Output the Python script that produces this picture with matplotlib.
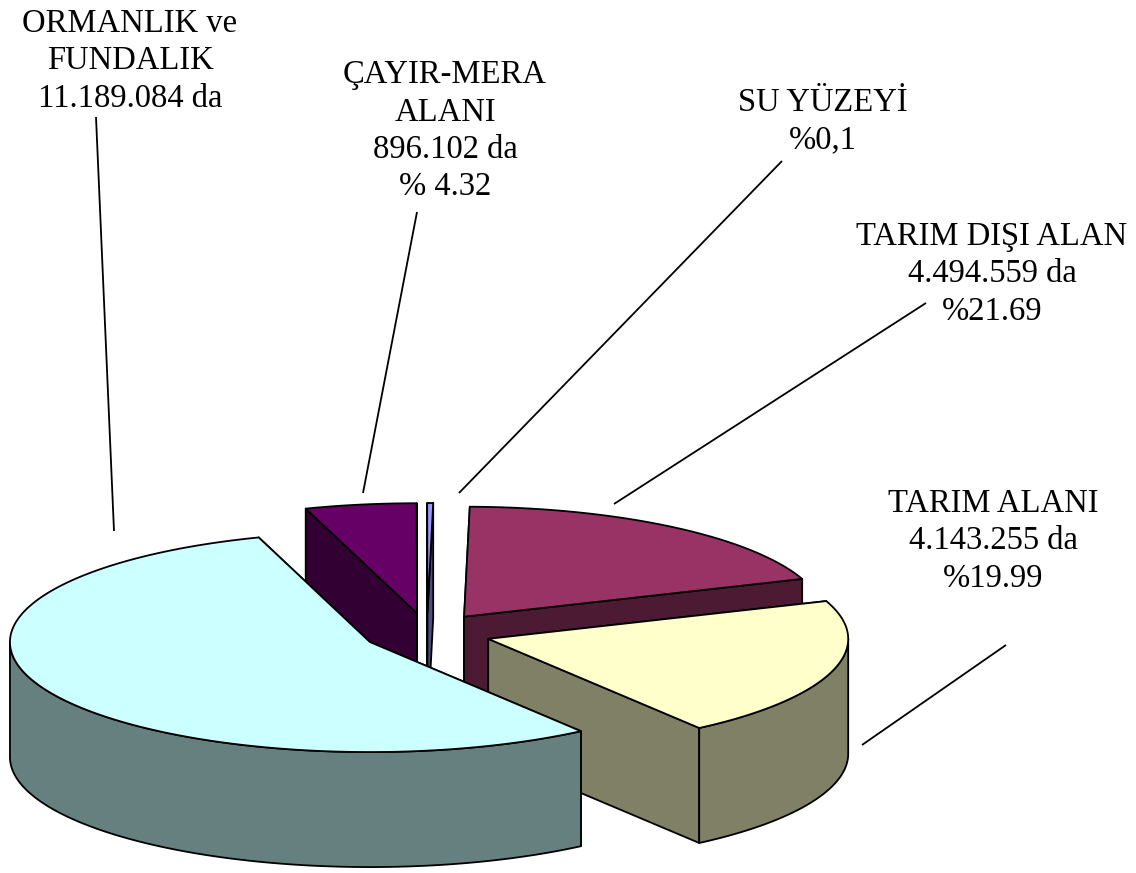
import numpy as np
import matplotlib
matplotlib.use('Agg')
import matplotlib.pyplot as plt
from matplotlib.patches import Polygon

# slices clockwise, starting from the back left edge
names = ['ÇAYIR-MERA ALANI', 'SU YÜZEYİ', 'TARIM DIŞI ALAN', 'TARIM ALANI', 'ORMANLIK ve FUNDALIK']
areas = [896102, 20700, 4494559, 4143255, 11189084]

label_texts = ['ÇAYIR-MERA\nALANI\n896.102 da\n% 4.32',
               'SU YÜZEYİ\n%0,1',
               'TARIM DIŞI ALAN\n4.494.559 da\n%21.69',
               'TARIM ALANI\n4.143.255 da\n%19.99',
               'ORMANLIK ve\nFUNDALIK\n11.189.084 da']
label_x = [445, 823, 992, 993, 130]
label_y = [131, 121, 274, 541, 61]
leader_x = [(417, 363), (782, 459), (926, 614), (1006, 862), (96, 114)]
leader_y = [(212, 493), (161, 493), (303, 504), (645, 745), (117, 531)]

top_colors = ['#660066', '#9999FF', '#993366', '#FFFFCC', '#CCFFFF']
side_colors = ['#330033', '#4D4D80', '#4D1A33', '#808066', '#668080']

# pie geometry in pixels
cx, cy = 427, 633
rx, ry = 360, 110
depth = 115
expl_x, expl_y = 64, 20
start = 108
# small shifts of the slice edges, the original has a perspective view
edge_shift = [0, -2.4, -3, 6, 3.7, 0]
draw_order = [0, 1, 2, 3, 4]


def rim(x0, y0, a1, a2, n=200):
    t = np.radians(np.linspace(a1, a2, n))
    return x0 + rx*np.cos(t), y0 - ry*np.sin(t)


fig = plt.figure(figsize=(11.36, 8.73), dpi=100)
ax = fig.add_axes([0, 0, 1, 1])
ax.set_xlim(0, 1136)
ax.set_ylim(873, 0)
ax.axis('off')

shares = np.array(areas)/sum(areas)*360
edges = start - np.concatenate(([0], np.cumsum(shares))) + np.array(edge_shift)

for i in draw_order:
    a1, a2 = edges[i], edges[i+1]
    mid = np.radians((a1 + a2)/2)
    x0 = cx + expl_x*np.cos(mid)
    y0 = cy - expl_y*np.sin(mid)
    style = dict(edgecolor='black', linewidth=1.3, joinstyle='round')

    # flat cut faces, the one further back goes first
    cuts = sorted([a1, a2], key=lambda a: -np.sin(np.radians(a)))
    for a in cuts:
        xe = x0 + rx*np.cos(np.radians(a))
        ye = y0 - ry*np.sin(np.radians(a))
        ax.add_patch(Polygon([(x0, y0), (xe, ye), (xe, ye+depth), (x0, y0+depth)],
                             facecolor=side_colors[i], **style))

    # outer wall, only the lower half of the ellipse shows
    k = np.ceil((a2 - (-180))/360)
    for low, high in [(-180 + 360*m, 360*m) for m in range(int(k) - 1, int(k) + 1)]:
        b1, b2 = max(a2, low), min(a1, high)
        if b2 > b1:
            xs, ys = rim(x0, y0, b1, b2)
            pts = np.concatenate([np.c_[xs, ys], np.c_[xs[::-1], ys[::-1] + depth]])
            ax.add_patch(Polygon(pts, facecolor=side_colors[i], **style))

    # top face
    xs, ys = rim(x0, y0, a1, a2)
    pts = np.concatenate([[(x0, y0)], np.c_[xs, ys]])
    ax.add_patch(Polygon(pts, facecolor=top_colors[i], **style))

for i in range(len(names)):
    ax.plot(leader_x[i], leader_y[i], color='black', linewidth=1.3, solid_capstyle='butt')
    ax.text(label_x[i], label_y[i], label_texts[i], family='Liberation Serif', fontsize=23.5,
            ha='center', va='center', linespacing=1.29, color='black')

plt.savefig('out.png', dpi=100)
